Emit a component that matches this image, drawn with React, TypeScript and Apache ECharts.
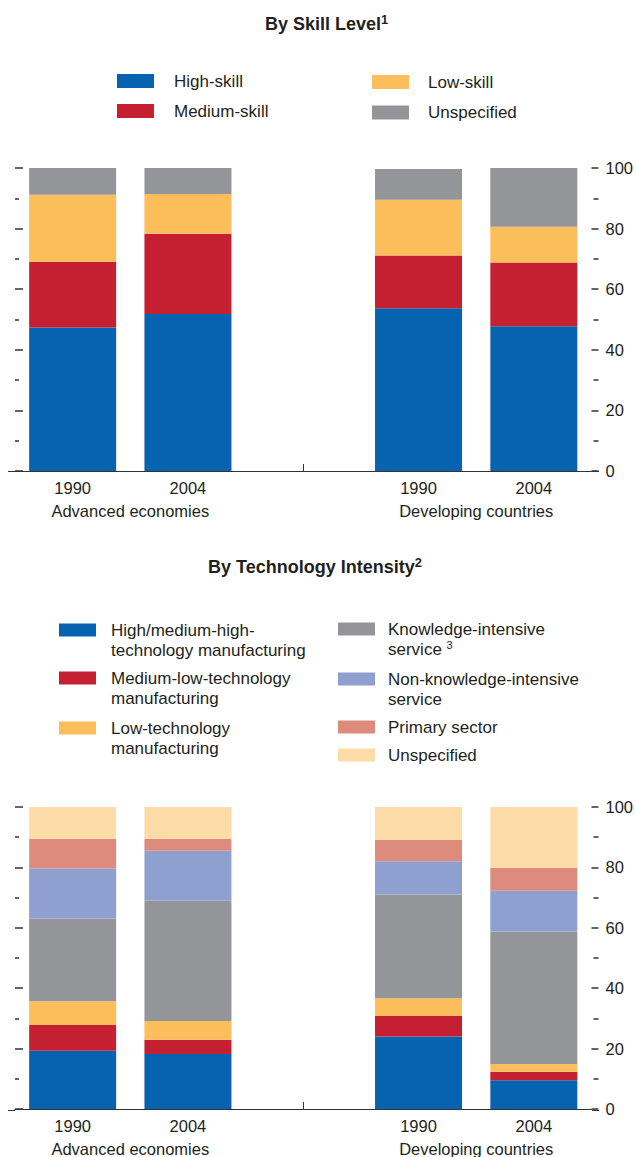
import React, { useEffect, useRef } from 'react';
import * as echarts from 'echarts';

// ---------- DATA ----------
const categories = ['1990', '2004', '', '1990', '2004'];
const groupLabels = ['Advanced economies', 'Developing countries'];
const yTicks = [0, 20, 40, 60, 80, 100];

// By skill level: share (percent) of each segment, per category (middle slot is a gap)
const skillNames = ['High-skill', 'Medium-skill', 'Low-skill', 'Unspecified'];
const skillHigh = [47.4, 51.8, null, 53.7, 47.8];
const skillMedium = [21.7, 26.5, null, 17.4, 21.0];
const skillLow = [22.1, 13.1, null, 18.4, 11.8];
const skillUnspecified = [8.8, 8.6, null, 10.2, 19.4];

// By technology intensity
const techNames = [
  'High/medium-high-technology manufacturing',
  'Medium-low-technology manufacturing',
  'Low-technology manufacturing',
  'Knowledge-intensive service',
  'Non-knowledge-intensive service',
  'Primary sector',
  'Unspecified (technology intensity)',
];
const techLegendLabels = [
  'High/medium-high-\ntechnology manufacturing',
  'Medium-low-technology\nmanufacturing',
  'Low-technology\nmanufacturing',
  'Knowledge-intensive\nservice {sup|3}',
  'Non-knowledge-intensive\nservice',
  'Primary sector',
  'Unspecified',
];
const techHighMedHigh = [19.3, 18.2, null, 24.0, 9.5];
const techMedLow = [8.5, 4.7, null, 6.8, 2.8];
const techLow = [7.9, 6.2, null, 5.9, 2.6];
const techKnowledge = [27.4, 39.9, null, 34.3, 43.9];
const techNonKnowledge = [16.5, 16.5, null, 11.0, 13.5];
const techPrimary = [9.9, 4.0, null, 7.1, 7.6];
const techUnspecified = [10.5, 10.5, null, 10.9, 20.1];

// ---------- STYLE / LAYOUT ----------
const FONT = "'Liberation Sans', Arial, sans-serif";
const TEXT = '#231f20';
const AXIS = '#333333';
const W = 636;
const H = 1157;
const GRID_LEFT = 15;
const GRID_RIGHT = 44;
const Y_OFFSET = 7;
const GRID_H = 303;
const GRID_TOPS = [168, 807];
const BAR_W = 87;
const AX_FS = 16.5;
const LEG_FS = 17;
const LINE_H = 20;

const skillColors = ['#0763AF', '#C42032', '#FBBE5B', '#939598'];
const techColors = ['#0763AF', '#C42032', '#FBBE5B', '#939598', '#8DA0D0', '#DC8B7C', '#FDDCA7'];

const skillLegendPos = [
  { left: 117, center: 81, pad: 15, lines: 1 },
  { left: 117, center: 111, pad: 15, lines: 1 },
  { left: 372, center: 82, pad: 14, lines: 1 },
  { left: 372, center: 112.5, pad: 14, lines: 1 },
];
const techLegendPos = [
  { left: 59, center: 630, pad: 10, lines: 2 },
  { left: 59, center: 678, pad: 10, lines: 2 },
  { left: 59, center: 728, pad: 10, lines: 2 },
  { left: 338, center: 629, pad: 8, lines: 2 },
  { left: 338, center: 679, pad: 8, lines: 2 },
  { left: 338, center: 727, pad: 8, lines: 1 },
  { left: 338, center: 755, pad: 8, lines: 1 },
];

function makeLegend(name: string, label: string, pos: any, itemH: number) {
  const boxH = pos.lines === 2 ? LINE_H * 3 : LINE_H;
  return {
    show: true,
    data: [name],
    orient: 'vertical',
    left: pos.left,
    top: pos.center - boxH / 2,
    padding: 0,
    icon: 'rect',
    itemWidth: 37,
    itemHeight: itemH,
    selectedMode: false,
    formatter: () => label,
    textStyle: {
      fontFamily: FONT,
      fontSize: LEG_FS,
      color: TEXT,
      lineHeight: LINE_H,
      padding: pos.lines === 2 ? [LINE_H, 0, 0, pos.pad] : [0, 0, 0, pos.pad],
      rich: {
        sup: {
          fontFamily: FONT,
          fontSize: 11,
          color: TEXT,
          lineHeight: 13,
          verticalAlign: 'top',
        },
      },
    },
  };
}

function axesFor(gi: number) {
  const xAxes = [
    {
      type: 'category',
      gridIndex: gi,
      data: categories,
      axisLine: { show: true, lineStyle: { color: AXIS, width: 1 } },
      axisTick: {
        show: true,
        alignWithLabel: true,
        interval: (i: number) => i === 2,
        inside: true,
        length: 7,
        lineStyle: { color: AXIS, width: 1 },
      },
      axisLabel: { interval: 0, margin: 8, fontSize: AX_FS, fontFamily: FONT, color: TEXT },
      splitLine: { show: false },
    },
    {
      type: 'value',
      gridIndex: gi,
      position: 'bottom',
      min: 0,
      max: 5,
      interval: 1,
      axisLine: { show: false },
      axisTick: { show: false },
      splitLine: { show: false },
      axisLabel: {
        margin: 31,
        fontSize: AX_FS,
        fontFamily: FONT,
        color: TEXT,
        showMinLabel: true,
        showMaxLabel: true,
        formatter: (v: number) => (v === 1 ? groupLabels[0] : v === 4 ? groupLabels[1] : ''),
      },
    },
  ];
  const yBase = {
    type: 'value',
    gridIndex: gi,
    min: yTicks[0],
    max: yTicks[yTicks.length - 1],
    interval: yTicks[1] - yTicks[0],
    offset: Y_OFFSET,
    axisLine: { show: false },
    splitLine: { show: false },
    minorTick: { show: true, splitNumber: 2, length: 4, lineStyle: { color: AXIS, width: 1.5 } },
  };
  const yAxes = [
    {
      ...yBase,
      position: 'left',
      axisTick: { show: true, inside: true, length: 8, lineStyle: { color: AXIS, width: 1.5 } },
      axisLabel: { show: false },
    },
    {
      ...yBase,
      position: 'right',
      axisTick: { show: true, inside: true, length: 7, lineStyle: { color: AXIS, width: 1.5 } },
      minorTick: { show: true, splitNumber: 2, length: 5, lineStyle: { color: AXIS, width: 1.5 } },
      axisLabel: { show: true, margin: 7, fontSize: AX_FS, fontFamily: FONT, color: TEXT },
    },
  ];
  return { xAxes, yAxes };
}

export default function App() {
  const ref = useRef<HTMLDivElement>(null);

  useEffect(() => {
    document.body.style.margin = '0';
    if (!ref.current) return;
    const chart = echarts.init(ref.current, undefined, { renderer: 'svg' });

    const a0 = axesFor(0);
    const a1 = axesFor(1);

    const skillData = [skillHigh, skillMedium, skillLow, skillUnspecified];
    const techData = [
      techHighMedHigh,
      techMedLow,
      techLow,
      techKnowledge,
      techNonKnowledge,
      techPrimary,
      techUnspecified,
    ];

    const series: any[] = [];
    skillNames.forEach((n, i) =>
      series.push({
        type: 'bar',
        name: n,
        stack: 'skill',
        xAxisIndex: 0,
        yAxisIndex: 0,
        barWidth: BAR_W,
        data: skillData[i],
        itemStyle: { color: skillColors[i] },
        emphasis: { disabled: true },
      })
    );
    techNames.forEach((n, i) =>
      series.push({
        type: 'bar',
        name: n,
        stack: 'tech',
        xAxisIndex: 2,
        yAxisIndex: 2,
        barWidth: BAR_W,
        data: techData[i],
        itemStyle: { color: techColors[i] },
        emphasis: { disabled: true },
      })
    );

    const legends = [
      ...skillNames.map((n, i) => makeLegend(n, n, skillLegendPos[i], 14)),
      ...techNames.map((n, i) => makeLegend(n, techLegendLabels[i], techLegendPos[i], 13)),
    ];

    const titleStyle = {
      fontFamily: FONT,
      fontSize: 18,
      fontWeight: 'bold',
      color: TEXT,
      lineHeight: 22,
      rich: {
        sup: {
          fontFamily: FONT,
          fontSize: 13,
          fontWeight: 'bold',
          color: TEXT,
          lineHeight: 13,
          verticalAlign: 'top',
        },
      },
    };

    const extLines: any[] = [];
    GRID_TOPS.forEach((t) => {
      const y = t + GRID_H + 0.5;
      extLines.push({
        type: 'line',
        shape: { x1: GRID_LEFT - Y_OFFSET, y1: y, x2: GRID_LEFT, y2: y },
        style: { stroke: AXIS, lineWidth: 1 },
        silent: true,
      });
      extLines.push({
        type: 'line',
        shape: { x1: W - GRID_RIGHT, y1: y, x2: W - GRID_RIGHT + Y_OFFSET, y2: y },
        style: { stroke: AXIS, lineWidth: 1 },
        silent: true,
      });
    });

    chart.setOption({
      animation: false,
      backgroundColor: '#ffffff',
      title: [
        { text: 'By Skill Level{sup|1}', left: 265, top: 13, padding: 0, textStyle: titleStyle },
        { text: 'By Technology Intensity{sup|2}', left: 208, top: 556, padding: 0, textStyle: titleStyle },
      ],
      legend: legends,
      grid: GRID_TOPS.map((t) => ({
        left: GRID_LEFT,
        right: GRID_RIGHT,
        top: t,
        height: GRID_H,
        containLabel: false,
      })),
      xAxis: [...a0.xAxes, ...a1.xAxes],
      yAxis: [...a0.yAxes, ...a1.yAxes],
      series,
      graphic: extLines,
    });

    return () => chart.dispose();
  }, []);

  return <div ref={ref} style={{ width: W, height: H }} />;
}
